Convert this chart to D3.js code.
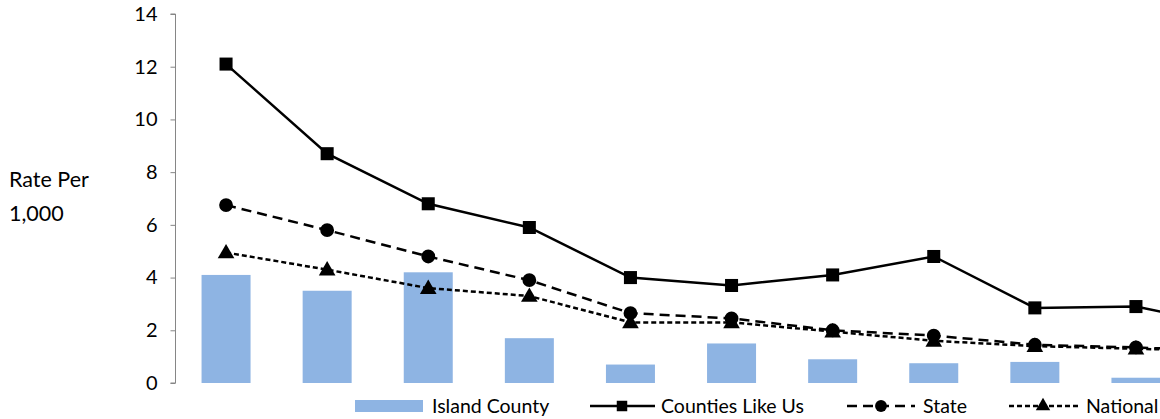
<!DOCTYPE html>
<html>
<head>
<meta charset="utf-8">
<script src="https://cdn.jsdelivr.net/npm/d3@7/dist/d3.min.js"></script>
<style>
  html, body { margin: 0; padding: 0; background: #fff; }
  svg { display: block; }
  text { font-family: "Lato", "Open Sans", sans-serif; fill: #000; }
</style>
</head>
<body>
<svg id="chart" width="1160" height="419"></svg>
<script>
// ---- data ----
const categories = ["1", "2", "3", "4", "5", "6", "7", "8", "9", "10", "11"];
const islandCounty = [4.1, 3.5, 4.2, 1.7, 0.7, 1.5, 0.9, 0.75, 0.8, 0.2, null];
const countiesLikeUs = [12.1, 8.7, 6.8, 5.9, 4.0, 3.7, 4.1, 4.8, 2.85, 2.9, 2.1];
const stateRate = [6.75, 5.8, 4.8, 3.9, 2.65, 2.45, 2.0, 1.8, 1.45, 1.35, 1.2];
const nationalRate = [4.95, 4.3, 3.6, 3.3, 2.3, 2.3, 1.95, 1.6, 1.4, 1.3, 1.2];
const yTicks = [0, 2, 4, 6, 8, 10, 12, 14];
const seriesNames = ["Island County", "Counties Like Us", "State", "National"];

// ---- layout ----
const svg = d3.select("#chart");
const axisX = 175.5;
const step = 101.1;
const x = d3.scaleBand().domain(categories).range([axisX, axisX + step * categories.length]).padding(0);
const y = d3.scaleLinear().domain([0, 14]).range([383, 14]);
const cx = c => x(c) + x.bandwidth() / 2;
const barW = 49;
const legendFont = "19.5px";

// bars
svg.append("g").selectAll("rect")
  .data(categories.map((c, i) => ({ c, v: islandCounty[i] })).filter(d => d.v != null))
  .join("rect")
  .attr("x", d => cx(d.c) - barW / 2)
  .attr("y", d => y(d.v))
  .attr("width", barW)
  .attr("height", d => y(0) - y(d.v))
  .attr("fill", "#8EB4E3");

// y axis
const yAxis = d3.axisLeft(y).tickValues(yTicks).tickSize(5).tickPadding(13).tickFormat(d3.format("d"));
const ga = svg.append("g").attr("transform", `translate(${axisX},0)`).call(yAxis);
ga.select(".domain").attr("stroke", "#868686").attr("stroke-width", 1).attr("d", `M-5,${y(14)}H0V${y(0)}H-5`);
ga.selectAll(".tick line").attr("stroke", "#868686");
ga.selectAll(".tick text").style("font-size", "20px").style("font-family", "Lato, 'Open Sans', sans-serif").attr("fill", "#000");

// y label
svg.append("text").attr("x", 9).attr("y", 187).style("font-size", "21.5px").text("Rate Per");
svg.append("text").attr("x", 9).attr("y", 221).style("font-size", "21.5px").text("1,000");

// lines
const line = d3.line().defined(d => d.v != null).x(d => cx(d.c)).y(d => y(d.v));
const series = [
  { vals: countiesLikeUs, dash: null, marker: "square" },
  { vals: stateRate, dash: "10,6", marker: "circle" },
  { vals: nationalRate, dash: "5,3", marker: "triangle" }
];
const symbolFor = m => m === "square" ? d3.symbolSquare : m === "circle" ? d3.symbolCircle : d3.symbolTriangle;
const sizeFor = m => m === "square" ? 170 : m === "circle" ? 150 : 120;

series.forEach(s => {
  const data = categories.map((c, i) => ({ c, v: s.vals[i] }));
  svg.append("path").datum(data)
    .attr("d", line)
    .attr("fill", "none")
    .attr("stroke", "#000")
    .attr("stroke-width", 2.5)
    .attr("stroke-dasharray", s.dash);
  svg.append("g").selectAll("path")
    .data(data.filter(d => d.v != null))
    .join("path")
    .attr("transform", d => `translate(${cx(d.c)},${y(d.v) + (s.marker === "triangle" ? 1 : 0)})`)
    .attr("d", d3.symbol().type(symbolFor(s.marker)).size(sizeFor(s.marker)))
    .attr("fill", "#000");
});

// legend
const ly = 406;
const leg = svg.append("g");
// Island County
leg.append("rect").attr("x", 355).attr("y", ly - 6).attr("width", 68).attr("height", 12).attr("fill", "#8EB4E3");
leg.append("text").attr("x", 432).attr("y", ly + 7).style("font-size", legendFont).text(seriesNames[0]);
// Counties Like Us
leg.append("line").attr("x1", 590).attr("x2", 655).attr("y1", ly).attr("y2", ly).attr("stroke", "#000").attr("stroke-width", 2.5);
leg.append("path").attr("transform", `translate(622,${ly})`).attr("d", d3.symbol().type(d3.symbolSquare).size(110)).attr("fill", "#000");
leg.append("text").attr("x", 661).attr("y", ly + 7).style("font-size", legendFont).text(seriesNames[1]);
// State
leg.append("line").attr("x1", 847).attr("x2", 915).attr("y1", ly).attr("y2", ly).attr("stroke", "#000").attr("stroke-width", 2.5).attr("stroke-dasharray", "10,6");
leg.append("path").attr("transform", `translate(881,${ly})`).attr("d", d3.symbol().type(d3.symbolCircle).size(110)).attr("fill", "#000");
leg.append("text").attr("x", 923).attr("y", ly + 7).style("font-size", legendFont).text(seriesNames[2]);
// National
leg.append("line").attr("x1", 1009).attr("x2", 1081).attr("y1", ly).attr("y2", ly).attr("stroke", "#000").attr("stroke-width", 2.5).attr("stroke-dasharray", "5,3");
leg.append("path").attr("transform", `translate(1043,${ly})`).attr("d", d3.symbol().type(d3.symbolTriangle).size(90)).attr("fill", "#000");
leg.append("text").attr("x", 1086).attr("y", ly + 7).style("font-size", legendFont).text(seriesNames[3]);
</script>
</body>
</html>
